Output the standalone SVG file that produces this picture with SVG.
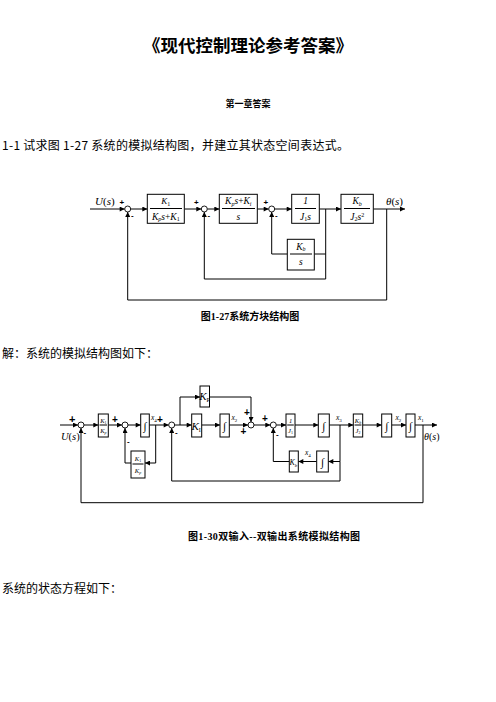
<svg xmlns="http://www.w3.org/2000/svg" width="496" height="702" viewBox="0 0 496 702">
<style>
.bg{fill:#fff}
.cjk{font-family:"Noto Sans CJK SC",sans-serif;fill:#000}
.title{font-size:17.5px;font-weight:bold}
.body{font-size:12px}
.cap{font-family:"Liberation Serif","Noto Sans CJK SC",serif;font-weight:bold;font-size:10px}
.m{font-family:"Liberation Serif",serif;font-style:italic;fill:#000}
.s{font-family:"Liberation Sans",sans-serif;font-weight:bold;fill:#000}
.blk{fill:#fff;stroke:#000;stroke-width:1}
.ln{fill:none;stroke:#000;stroke-width:1}
.sum{fill:#fff;stroke:#000;stroke-width:0.9}
</style>
<defs>
<marker id="ah" viewBox="0 0 10 10" refX="10" refY="5" markerWidth="7" markerHeight="5" orient="auto" markerUnits="userSpaceOnUse"><path d="M0,0 L10,5 L0,10 z" fill="#000"/></marker>
</defs>
<rect class="bg" x="0" y="0" width="496" height="702"/>

<text class="cjk title" x="248" y="52" text-anchor="middle">《现代控制理论参考答案》</text>
<text class="cjk" x="248" y="107" text-anchor="middle" font-size="9" font-weight="bold">第一章答案</text>
<text class="cjk body" x="2" y="150" textLength="347" lengthAdjust="spacing">1-1 试求图 1-27 系统的模拟结构图，并建立其状态空间表达式。</text>

<!-- Diagram 1 -->
<g id="d1-connectors">
<path class="ln" d="M90,209 H124.7" marker-end="url(#ah)"/>
<path class="ln" d="M130.7,209 H147.3" marker-end="url(#ah)"/>
<path class="ln" d="M184.3,209 H201.3" marker-end="url(#ah)"/>
<path class="ln" d="M207.3,209 H219.3" marker-end="url(#ah)"/>
<path class="ln" d="M257.3,209 H268.7" marker-end="url(#ah)"/>
<path class="ln" d="M274.7,209 H291.7" marker-end="url(#ah)"/>
<path class="ln" d="M319.3,209 H341" marker-end="url(#ah)"/>
<path class="ln" d="M373.3,209 H405" marker-end="url(#ah)"/>
<path class="ln" d="M386.7,209 V300 H127.7 V212" marker-end="url(#ah)"/>
<path class="ln" d="M325.7,209 V279 H204.3 V212" marker-end="url(#ah)"/>
<path class="ln" d="M325.7,254 H314.3"/>
<path class="ln" d="M287.3,254 H271.7 V212" marker-end="url(#ah)"/>
</g>
<g id="d1-sum1"><circle class="sum" cx="127.7" cy="209" r="3"/><text class="s" x="119.5" y="205" font-size="8">+</text><text class="s" x="131" y="218" font-size="8">-</text></g>
<g id="d1-sum2"><circle class="sum" cx="204.3" cy="209" r="3"/><text class="s" x="194" y="205" font-size="8">+</text><text class="s" x="207.5" y="218" font-size="8">-</text></g>
<g id="d1-sum3"><circle class="sum" cx="271.7" cy="209" r="3"/><text class="s" x="263.5" y="205" font-size="8">+</text><text class="s" x="275" y="218" font-size="8">-</text></g>
<g id="d1-U"><text class="m" x="95" y="205" font-size="11">U<tspan font-style="normal">(</tspan>s<tspan font-style="normal">)</tspan></text></g>
<g id="d1-theta"><text class="m" x="386" y="205" font-size="11">θ<tspan font-style="normal">(</tspan>s<tspan font-style="normal">)</tspan></text></g>
<g id="d1-b1">
<rect class="blk" x="147.3" y="194.3" width="37" height="29"/>
<text class="m" x="165.8" y="204" font-size="9" text-anchor="middle">K<tspan font-size="6" dy="1.5" font-style="normal">1</tspan></text>
<line class="ln" x1="150" y1="208.5" x2="182" y2="208.5" stroke-width="0.7"/>
<text class="m" x="165.8" y="219.5" font-size="9.5" text-anchor="middle">K<tspan font-size="6" dy="1.5">p</tspan><tspan dy="-1.5">s</tspan><tspan font-style="normal">+</tspan>K<tspan font-size="6" dy="1.5" font-style="normal">1</tspan></text>
</g>
<g id="d1-b2">
<rect class="blk" x="219.3" y="194.3" width="38" height="29"/>
<text class="m" x="238.3" y="204" font-size="9.5" text-anchor="middle">K<tspan font-size="6" dy="1.5">p</tspan><tspan dy="-1.5">s</tspan><tspan font-style="normal">+</tspan>K<tspan font-size="6" dy="1.5">i</tspan></text>
<line class="ln" x1="222" y1="208.5" x2="255" y2="208.5" stroke-width="0.7"/>
<text class="m" x="238.3" y="219.5" font-size="9.5" text-anchor="middle">s</text>
</g>
<g id="d1-b3">
<rect class="blk" x="291.7" y="194.3" width="27.6" height="29"/>
<text class="m" x="305.5" y="204" font-size="9.5" text-anchor="middle" font-style="normal">1</text>
<line class="ln" x1="295" y1="208.5" x2="316" y2="208.5" stroke-width="0.7"/>
<text class="m" x="305.5" y="219.5" font-size="9.5" text-anchor="middle">J<tspan font-size="6" dy="1.5" font-style="normal">1</tspan><tspan dy="-1.5">s</tspan></text>
</g>
<g id="d1-b4">
<rect class="blk" x="341" y="194.3" width="32.3" height="29"/>
<text class="m" x="357.2" y="204" font-size="9.5" text-anchor="middle">K<tspan font-size="6" dy="1.5">b</tspan></text>
<line class="ln" x1="344" y1="208.5" x2="370" y2="208.5" stroke-width="0.7"/>
<text class="m" x="357.2" y="219.5" font-size="9.5" text-anchor="middle">J<tspan font-size="6" dy="1.5" font-style="normal">2</tspan><tspan dy="-1.5">s</tspan><tspan font-size="6" dy="-3" font-style="normal">2</tspan></text>
</g>
<g id="d1-b5">
<rect class="blk" x="287.3" y="239.3" width="27" height="30.7"/>
<text class="m" x="300.8" y="249.5" font-size="9.5" text-anchor="middle">K<tspan font-size="6" dy="1.5">b</tspan></text>
<line class="ln" x1="290" y1="254" x2="312" y2="254" stroke-width="0.7"/>
<text class="m" x="300.8" y="265" font-size="9.5" text-anchor="middle">s</text>
</g>
<text class="cap" x="250" y="320" text-anchor="middle">图1-27系统方块结构图</text>

<text class="cjk body" x="2" y="358">解：系统的模拟结构图如下：</text>

<!-- Diagram 2 -->
<g id="d2-connectors">
<path class="ln" d="M60,425 H78" marker-end="url(#ah)"/>
<path class="ln" d="M84,425 H98.3" marker-end="url(#ah)"/>
<path class="ln" d="M108.3,425 H122" marker-end="url(#ah)"/>
<path class="ln" d="M128,425 H140.7" marker-end="url(#ah)"/>
<path class="ln" d="M149.3,425 H168.7" marker-end="url(#ah)"/>
<path class="ln" d="M174.7,425 H191.7" marker-end="url(#ah)"/>
<path class="ln" d="M180,425 V397 H200" marker-end="url(#ah)"/>
<path class="ln" d="M209.5,397 H251 V422" marker-end="url(#ah)"/>
<path class="ln" d="M201.7,425 H220" marker-end="url(#ah)"/>
<path class="ln" d="M229.3,425 H248" marker-end="url(#ah)"/>
<path class="ln" d="M254,425 H270.3" marker-end="url(#ah)"/>
<path class="ln" d="M276.3,425 H286" marker-end="url(#ah)"/>
<path class="ln" d="M295,425 H318.3" marker-end="url(#ah)"/>
<path class="ln" d="M329.3,425 H353.3" marker-end="url(#ah)"/>
<path class="ln" d="M362.7,425 H381.7" marker-end="url(#ah)"/>
<path class="ln" d="M391.7,425 H406" marker-end="url(#ah)"/>
<path class="ln" d="M415,425 H437" marker-end="url(#ah)"/>
<path class="ln" d="M340,425 V461.5 H328.3" marker-end="url(#ah)"/>
<path class="ln" d="M316.7,461.5 H298.3" marker-end="url(#ah)"/>
<path class="ln" d="M289.3,461.5 H273.3 V428" marker-end="url(#ah)"/>
<path class="ln" d="M340,461.5 V481 H171.7 V428" marker-end="url(#ah)"/>
<path class="ln" d="M155.7,425 V463 H145" marker-end="url(#ah)"/>
<path class="ln" d="M131,463 H125 V428" marker-end="url(#ah)"/>
<path class="ln" d="M423,425 V502.7 H81 V428" marker-end="url(#ah)"/>
</g>
<g id="d2-U"><text class="m" x="61" y="440" font-size="10.5">U<tspan font-style="normal">(</tspan>s<tspan font-style="normal">)</tspan></text></g>
<g id="d2-theta"><text class="m" x="424" y="440" font-size="10">θ<tspan font-style="normal">(</tspan>s<tspan font-style="normal">)</tspan></text></g>
<g id="d2-sum1"><circle class="sum" cx="81" cy="425" r="3"/><text class="s" x="69" y="423" font-size="11">+</text><text class="s" x="83.5" y="435" font-size="8">-</text></g>
<g id="d2-sum2"><circle class="sum" cx="125" cy="425" r="3"/><text class="s" x="112" y="423" font-size="10">+</text><text class="s" x="127" y="444" font-size="8">-</text></g>
<g id="d2-sum3"><circle class="sum" cx="171.7" cy="425" r="3"/><text class="s" x="157" y="423" font-size="10">+</text><text class="s" x="175" y="435" font-size="8">-</text></g>
<g id="d2-sum4"><circle class="sum" cx="251" cy="425" r="3"/><text class="s" x="244" y="416" font-size="10">+</text><text class="s" x="240.5" y="435" font-size="10">+</text></g>
<g id="d2-sum5"><circle class="sum" cx="273.3" cy="425" r="3"/><text class="s" x="262" y="422" font-size="10">+</text><text class="s" x="276" y="437" font-size="8">-</text></g>
<g id="d2-b1">
<rect class="blk" x="98.3" y="414" width="10" height="23"/>
<text class="m" x="103.3" y="422.5" font-size="6.5" text-anchor="middle">K<tspan font-size="4" dy="1" font-style="normal">1</tspan></text>
<line class="ln" x1="99.5" y1="425" x2="107" y2="425" stroke-width="0.5"/>
<text class="m" x="103.3" y="432.5" font-size="6.5" text-anchor="middle">K<tspan font-size="4" dy="1">p</tspan></text>
</g>
<g id="d2-int1"><rect class="blk" x="140.7" y="414" width="8.6" height="23"/><text class="m" x="145" y="429.5" font-size="11" text-anchor="middle">∫</text></g>
<g id="d2-x4a"><text class="m" x="151" y="420" font-size="7.5">x<tspan font-size="5" dy="1.5" font-style="normal">4</tspan></text></g>
<g id="d2-fb1">
<rect class="blk" x="131" y="451" width="14" height="27"/>
<text class="m" x="138" y="461" font-size="6.5" text-anchor="middle">K<tspan font-size="4" dy="1" font-style="normal">1</tspan></text>
<line class="ln" x1="132.5" y1="464" x2="143.5" y2="464" stroke-width="0.5"/>
<text class="m" x="138" y="473" font-size="6.5" text-anchor="middle">K<tspan font-size="4" dy="1">p</tspan></text>
</g>
<g id="d2-KI"><rect class="blk" x="191.7" y="414" width="10" height="23"/><text class="m" x="196.2" y="429.5" font-size="11" text-anchor="middle">K<tspan font-size="6" dy="2" font-style="normal">I</tspan></text></g>
<g id="d2-Kp"><rect class="blk" x="200" y="386" width="9.5" height="21"/><text class="m" x="204.5" y="400" font-size="11" text-anchor="middle">K<tspan font-size="6" dy="2" font-style="normal">P</tspan></text></g>
<g id="d2-int2"><rect class="blk" x="220" y="414" width="9.3" height="23"/><text class="m" x="224.6" y="429.5" font-size="11" text-anchor="middle">∫</text></g>
<g id="d2-x2a"><text class="m" x="231.5" y="420" font-size="7.5">x<tspan font-size="5" dy="1.5" font-style="normal">2</tspan></text></g>
<g id="d2-J1">
<rect class="blk" x="286" y="414" width="9" height="23"/>
<text class="m" x="290.5" y="422.5" font-size="6.5" text-anchor="middle" font-style="normal">1</text>
<line class="ln" x1="287.2" y1="425" x2="293.8" y2="425" stroke-width="0.5"/>
<text class="m" x="290.5" y="432.5" font-size="6.5" text-anchor="middle">J<tspan font-size="4" dy="1" font-style="normal">1</tspan></text>
</g>
<g id="d2-int3"><rect class="blk" x="318.3" y="414" width="11" height="23"/><text class="m" x="323.8" y="429.5" font-size="11" text-anchor="middle">∫</text></g>
<g id="d2-x3"><text class="m" x="336" y="420" font-size="7.5">x<tspan font-size="5" dy="1.5" font-style="normal">3</tspan></text></g>
<g id="d2-KbJ2">
<rect class="blk" x="353.3" y="414" width="9.4" height="23"/>
<text class="m" x="358" y="422.5" font-size="6.5" text-anchor="middle">K<tspan font-size="4" dy="1">b</tspan></text>
<line class="ln" x1="354.5" y1="425" x2="361.5" y2="425" stroke-width="0.5"/>
<text class="m" x="358" y="432.5" font-size="6.5" text-anchor="middle">J<tspan font-size="4" dy="1" font-style="normal">2</tspan></text>
</g>
<g id="d2-int5"><rect class="blk" x="381.7" y="414" width="10" height="23"/><text class="m" x="386.7" y="429.5" font-size="11" text-anchor="middle">∫</text></g>
<g id="d2-x2b"><text class="m" x="395.5" y="420" font-size="7.5">x<tspan font-size="5" dy="1.5" font-style="normal">2</tspan></text></g>
<g id="d2-int6"><rect class="blk" x="406" y="414" width="9" height="23"/><text class="m" x="410.5" y="429.5" font-size="11" text-anchor="middle">∫</text></g>
<g id="d2-x1"><text class="m" x="418" y="420" font-size="7.5">x<tspan font-size="5" dy="1.5" font-style="normal">1</tspan></text></g>
<g id="d2-int4"><rect class="blk" x="316.7" y="451" width="11.6" height="21"/><text class="m" x="322.5" y="465.5" font-size="11" text-anchor="middle">∫</text></g>
<g id="d2-x4b"><text class="m" x="305" y="455" font-size="7.5">x<tspan font-size="5" dy="1.5" font-style="normal">4</tspan></text></g>
<g id="d2-Kb"><rect class="blk" x="289.3" y="451" width="9" height="21"/><text class="m" x="293.3" y="465" font-size="8" text-anchor="middle">K<tspan font-size="5" dy="1.5">b</tspan></text></g>
<text class="cap" x="188" y="540" font-size="11" textLength="172" lengthAdjust="spacing">图1-30双输入--双输出系统模拟结构图</text>

<text class="cjk body" x="2" y="593">系统的状态方程如下：</text>
</svg>
